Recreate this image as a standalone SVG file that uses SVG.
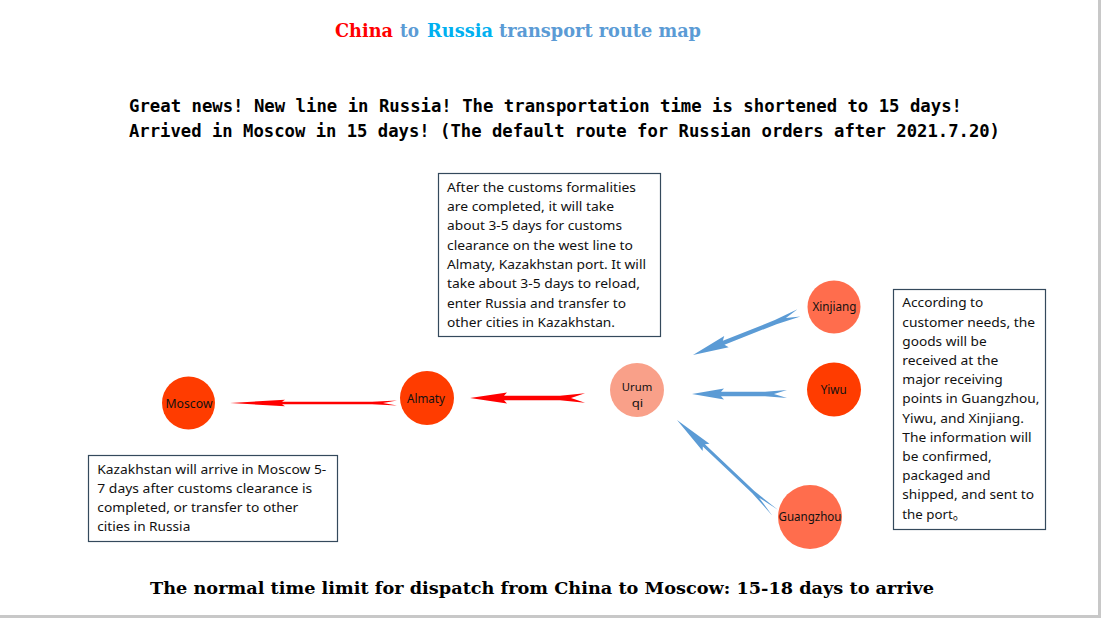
<svg xmlns="http://www.w3.org/2000/svg" width="1101" height="618" viewBox="0 0 1101 618">
<style>
.title{font-family:"DejaVu Serif","Liberation Serif",serif;font-weight:bold;font-size:18px}
.head{font-family:"DejaVu Sans Mono","Liberation Mono",monospace;font-weight:bold;font-size:17.2px;fill:#000}
.foot{font-family:"DejaVu Serif","Liberation Serif",serif;font-weight:bold;font-size:17px;fill:#000}
.box{fill:#fff;stroke:#34495c;stroke-width:1.2}
.bt{font-family:"Noto Sans","Noto Sans CJK SC",sans-serif;font-size:13.3px;fill:#111}
.nl{font-family:"Noto Sans","Liberation Sans",sans-serif;font-size:12.4px;fill:#111;text-anchor:middle}
.red{fill:#ff0000}
.blue{fill:#5b9bd5}
</style>
<rect x="0" y="0" width="1101" height="618" fill="#fff"/>
<rect x="1098" y="0" width="3" height="618" fill="#c8c8c8"/>
<rect x="0" y="615" width="1101" height="3" fill="#c8c8c8"/>

<g id="title">
<text class="title" y="37"><tspan x="335" fill="#ff0000" textLength="58" lengthAdjust="spacingAndGlyphs">China</tspan><tspan x="400" fill="#5b9bd5" textLength="19" lengthAdjust="spacingAndGlyphs">to</tspan><tspan x="427" fill="#00b0f0" textLength="66" lengthAdjust="spacingAndGlyphs">Russia</tspan><tspan x="499" fill="#5b9bd5" textLength="202" lengthAdjust="spacingAndGlyphs">transport route map</tspan></text>
</g>

<g id="headline">
<text class="head" x="129" y="112" textLength="833" lengthAdjust="spacingAndGlyphs">Great news! New line in Russia! The transportation time is shortened to 15 days!</text>
<text class="head" x="129" y="137" textLength="871" lengthAdjust="spacingAndGlyphs">Arrived in Moscow in 15 days! (The default route for Russian orders after 2021.7.20)</text>
</g>

<g id="connectors">
<path class="red" transform="translate(470,398)" d="M0,0 L37,-5.5 L34,-2.2 L90,-2.2 L115,-4.7 L101,0 L115,4.7 L90,2.2 L34,2.2 L37,5.5 Z"/>
<path class="red" transform="translate(230,403)" d="M0,0 L55,-3.3 L52,-1.2 L142,-1.2 L167,-2.6 L153,0 L167,2.6 L142,1.2 L52,1.2 L55,3.3 Z"/>
<path class="blue" transform="translate(692,394)" d="M0,0 L32,-5.5 L29,-2.2 L73,-2.2 L95,-4 L82,0 L95,4 L73,2.2 L29,2.2 L32,5.5 Z"/>
<path class="blue" transform="translate(693,355) rotate(-21.7)" d="M0,0 L36,-6 L33,-2.2 L89,-2.2 L114,-4 L100,0 L114,4 L89,2.2 L33,2.2 L36,6 Z"/>
<path class="blue" transform="translate(677,420) rotate(43.4)" d="M0,0 L40,-5 L37,-1.5 L105,-1.5 L135,-4 L113,0 L135,4 L105,1.5 L37,1.5 L40,5 Z"/>
</g>

<g id="node-moscow">
<circle cx="188.5" cy="403" r="26.5" fill="#ff3c00"/>
<text class="nl" x="189" y="407.5" textLength="47" lengthAdjust="spacingAndGlyphs">Moscow</text>
</g>
<g id="node-almaty">
<circle cx="427" cy="398" r="27" fill="#ff3c00"/>
<text class="nl" x="426" y="402.5" textLength="38" lengthAdjust="spacingAndGlyphs">Almaty</text>
</g>
<g id="node-urumqi">
<circle cx="637" cy="390" r="27" fill="#f9a089"/>
<text class="nl" style="font-size:11.6px"><tspan x="637" y="390.5" textLength="30.5" lengthAdjust="spacingAndGlyphs">Urum</tspan><tspan x="637.5" y="406.5" textLength="11.5" lengthAdjust="spacingAndGlyphs">qi</tspan></text>
</g>
<g id="node-xinjiang">
<circle cx="834" cy="307" r="26.5" fill="#ff6d4d"/>
<text class="nl" x="834.5" y="310.5" textLength="44" lengthAdjust="spacingAndGlyphs">Xinjiang</text>
</g>
<g id="node-yiwu">
<circle cx="834" cy="389.5" r="27" fill="#ff3c00"/>
<text class="nl" x="833.7" y="394" textLength="26" lengthAdjust="spacingAndGlyphs">Yiwu</text>
</g>
<g id="node-guangzhou">
<circle cx="810" cy="517" r="32" fill="#ff6d4d"/>
<text class="nl" x="810" y="521" textLength="63" lengthAdjust="spacingAndGlyphs">Guangzhou</text>
</g>

<g id="note-customs">
<rect class="box" x="438.5" y="173.5" width="222" height="163"/>
<text class="bt">
<tspan x="447" y="191.7" textLength="189" lengthAdjust="spacingAndGlyphs">After the customs formalities</tspan>
<tspan x="447" y="211" textLength="167" lengthAdjust="spacingAndGlyphs">are completed, it will take</tspan>
<tspan x="447" y="230.3" textLength="175" lengthAdjust="spacingAndGlyphs">about 3-5 days for customs</tspan>
<tspan x="447" y="249.6" textLength="186" lengthAdjust="spacingAndGlyphs">clearance on the west line to</tspan>
<tspan x="447" y="268.9" textLength="199" lengthAdjust="spacingAndGlyphs">Almaty, Kazakhstan port. It will</tspan>
<tspan x="447" y="288.2" textLength="193" lengthAdjust="spacingAndGlyphs">take about 3-5 days to reload,</tspan>
<tspan x="447" y="307.5" textLength="179" lengthAdjust="spacingAndGlyphs">enter Russia and transfer to</tspan>
<tspan x="447" y="326.8" textLength="168" lengthAdjust="spacingAndGlyphs">other cities in Kazakhstan.</tspan>
</text>
</g>

<g id="note-moscow">
<rect class="box" x="88.5" y="455.5" width="249" height="86"/>
<text class="bt">
<tspan x="97.3" y="474" textLength="229" lengthAdjust="spacingAndGlyphs">Kazakhstan will arrive in Moscow 5-</tspan>
<tspan x="97.3" y="493.1" textLength="215" lengthAdjust="spacingAndGlyphs">7 days after customs clearance is</tspan>
<tspan x="97.3" y="512.2" textLength="201" lengthAdjust="spacingAndGlyphs">completed, or transfer to other</tspan>
<tspan x="97.3" y="531.3" textLength="93" lengthAdjust="spacingAndGlyphs">cities in Russia</tspan>
</text>
</g>

<g id="note-receiving">
<rect class="box" x="893.5" y="289.5" width="152" height="240"/>
<text class="bt">
<tspan x="902.3" y="307.3" textLength="81" lengthAdjust="spacingAndGlyphs">According to</tspan>
<tspan x="902.3" y="326.5" textLength="132.7" lengthAdjust="spacingAndGlyphs">customer needs, the</tspan>
<tspan x="902.3" y="345.7" textLength="84.3" lengthAdjust="spacingAndGlyphs">goods will be</tspan>
<tspan x="902.3" y="364.9" textLength="96" lengthAdjust="spacingAndGlyphs">received at the</tspan>
<tspan x="902.3" y="384.1" textLength="100.3" lengthAdjust="spacingAndGlyphs">major receiving</tspan>
<tspan x="902.3" y="403.3" textLength="137" lengthAdjust="spacingAndGlyphs">points in Guangzhou,</tspan>
<tspan x="902.3" y="422.5" textLength="121.7" lengthAdjust="spacingAndGlyphs">Yiwu, and Xinjiang.</tspan>
<tspan x="902.3" y="441.7" textLength="129.3" lengthAdjust="spacingAndGlyphs">The information will</tspan>
<tspan x="902.3" y="460.9" textLength="89.3" lengthAdjust="spacingAndGlyphs">be confirmed,</tspan>
<tspan x="902.3" y="480.1" textLength="88.3" lengthAdjust="spacingAndGlyphs">packaged and</tspan>
<tspan x="902.3" y="499.3" textLength="131.7" lengthAdjust="spacingAndGlyphs">shipped, and sent to</tspan>
<tspan x="902.3" y="518.5">the port。</tspan>
</text>
</g>

<g id="footer">
<text class="foot" x="150" y="594" textLength="784" lengthAdjust="spacingAndGlyphs">The normal time limit for dispatch from China to Moscow: 15-18 days to arrive</text>
</g>
</svg>
